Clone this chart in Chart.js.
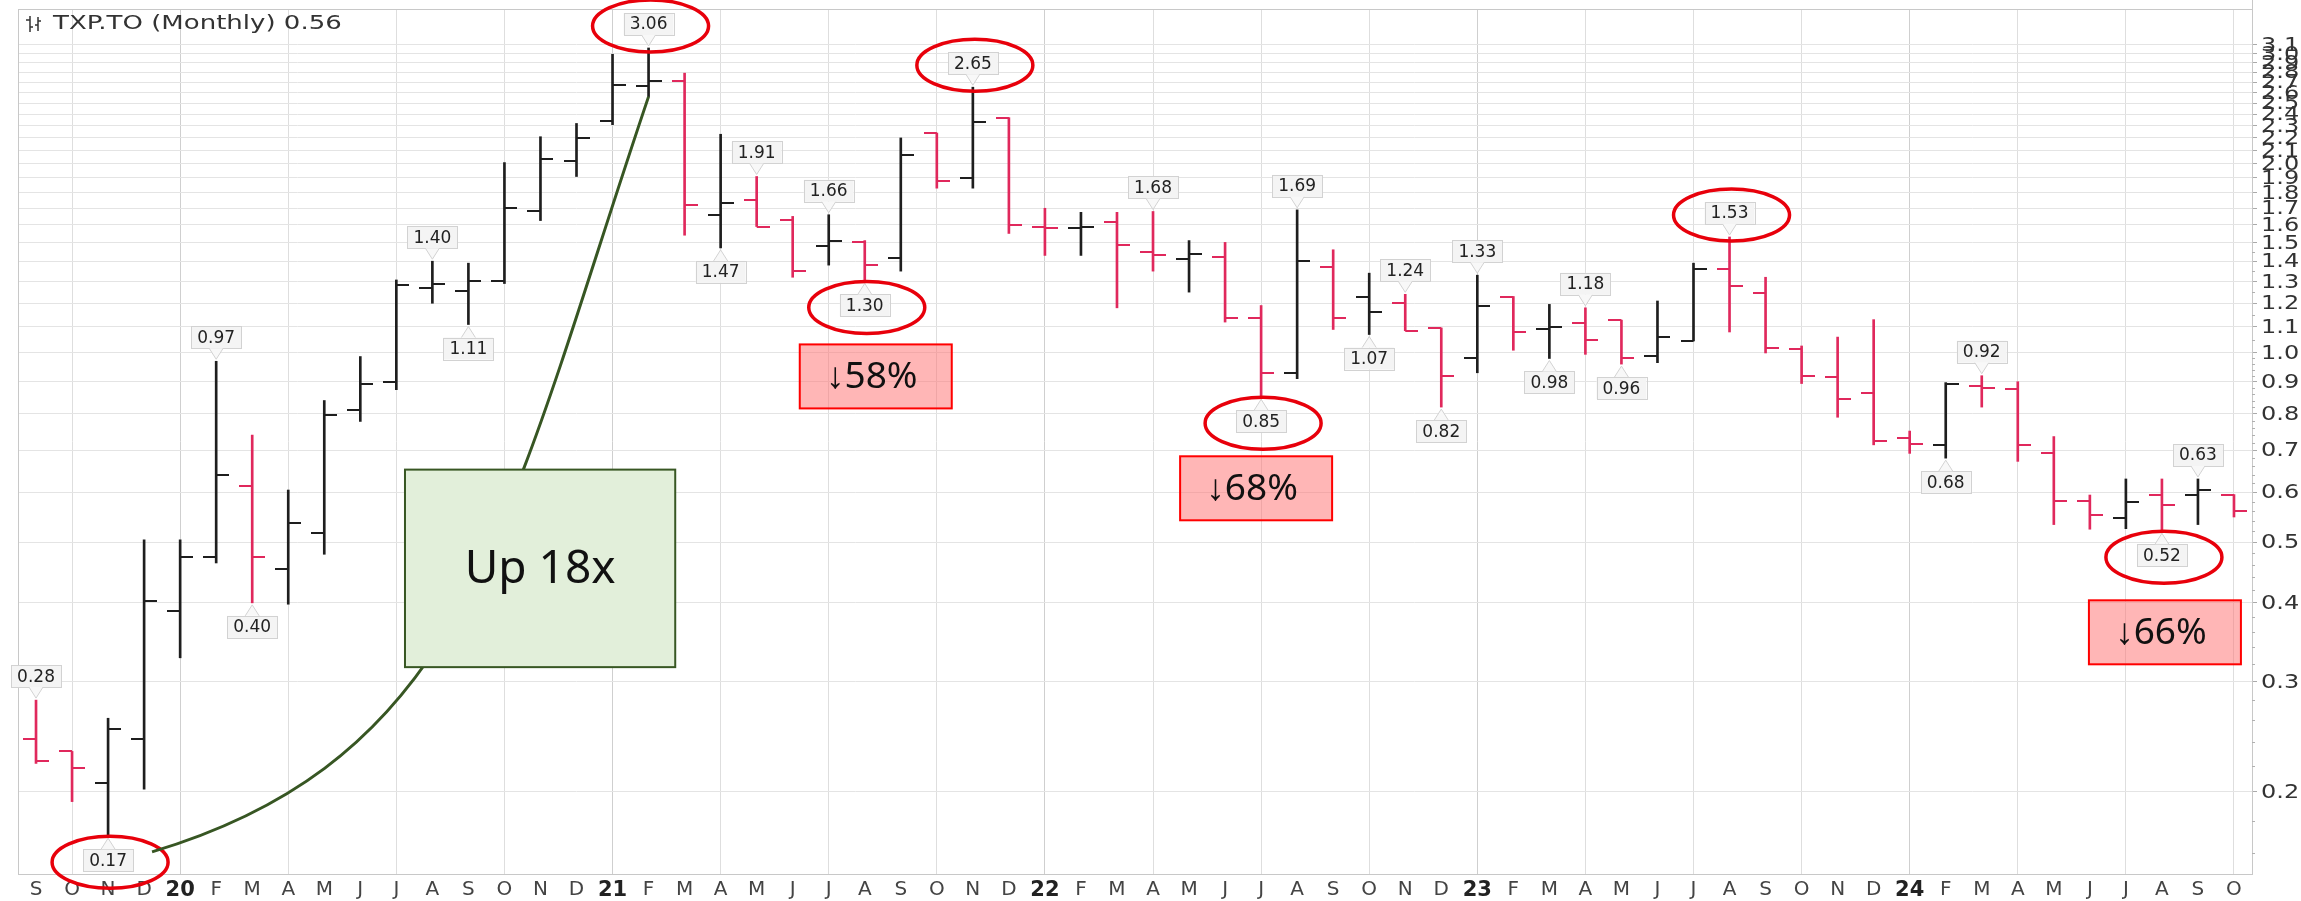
<!DOCTYPE html>
<html>
<head>
<meta charset="utf-8">
<script src="https://cdn.jsdelivr.net/npm/chart.js@4.4.1/dist/chart.umd.min.js"></script>
<style>
  html, body { margin: 0; padding: 0; background: #fff; }
  #myChart { display: block; }
</style>
</head>
<body>
<canvas id="myChart" width="2301" height="901"></canvas>
<script>
// month letters along the bottom, years as two digits
var months = ['S','O','N','D',
    '20','F','M','A','M','J','J','A','S','O','N','D',
    '21','F','M','A','M','J','J','A','S','O','N','D',
    '22','F','M','A','M','J','J','A','S','O','N','D',
    '23','F','M','A','M','J','J','A','S','O','N','D',
    '24','F','M','A','M','J','J','A','S','O'];

// monthly OHLC for TXP.TO
var opens  = [0.243,0.232,0.207,0.243, 0.388,0.474,0.614,0.453,0.517,0.81,0.90,1.27,1.257,1.30,1.68,2.02,
              2.34,2.66,2.71,1.657,1.75,1.63,1.48,1.50,1.415,2.24,1.90,2.37,
              1.59,1.58,1.615,1.45,1.41,1.42,1.135,0.93,1.37,1.23,1.20,1.096,
              0.98,1.23,1.09,1.115,1.128,0.99,1.045,1.36,1.245,1.014,0.915,0.862,
              0.733,0.714,0.885,0.876,0.694,0.581,0.545,0.594,0.594,0.593];
var highs  = [0.28,0.232,0.262,0.504, 0.504,0.97,0.74,0.605,0.84,0.987,1.307,1.40,1.39,2.01,2.21,2.32,
              2.99,3.06,2.79,2.23,1.91,1.65,1.66,1.51,2.20,2.24,2.65,2.37,
              1.70,1.675,1.675,1.68,1.51,1.50,1.19,1.69,1.46,1.34,1.24,1.096,
              1.33,1.23,1.195,1.18,1.128,1.21,1.39,1.53,1.32,1.026,1.06,1.13,
              0.751,0.897,0.92,0.90,0.736,0.594,0.63,0.63,0.63,0.595];
var lows   = [0.222,0.193,0.17,0.202, 0.327,0.463,0.40,0.398,0.478,0.778,0.874,1.20,1.11,1.29,1.625,1.91,
              2.31,2.56,1.54,1.47,1.59,1.32,1.38,1.30,1.35,1.83,1.83,1.55,
              1.43,1.43,1.18,1.35,1.25,1.12,0.85,0.91,1.09,1.07,1.085,0.82,
              0.93,1.01,0.98,0.995,0.96,0.965,1.045,1.08,1.00,0.894,0.79,0.714,
              0.692,0.68,0.82,0.672,0.533,0.524,0.525,0.52,0.533,0.548];
var closes = [0.224,0.218,0.252,0.402, 0.474,0.64,0.474,0.536,0.798,0.893,1.283,1.29,1.30,1.70,2.04,2.20,
              2.67,2.71,1.72,1.73,1.59,1.35,1.51,1.38,2.07,1.88,2.33,1.60,
              1.58,1.59,1.485,1.43,1.44,1.135,0.93,1.40,1.135,1.16,1.085,0.92,
              1.19,1.08,1.10,1.05,0.98,1.06,1.36,1.28,1.02,0.92,0.845,0.724,
              0.715,0.894,0.88,0.714,0.581,0.552,0.58,0.573,0.604,0.56];

// which bars carry a price flag
var highFlags = [0,5,11,17,20,22,26,31,35,38,40,43,47,54,60];
var lowFlags  = [2,6,12,19,23,34,37,39,42,44,53,59];
// flags circled in red
var circledHigh = [17,26,47];
var circledLow  = [2,23,34,59];

// price axis lines, every 0.1
var yTicks = [0.2,0.3,0.4,0.5,0.6,0.7,0.8,0.9,1.0,1.1,1.2,1.3,1.4,1.5,1.6,1.7,1.8,1.9,2.0,
              2.1,2.2,2.3,2.4,2.5,2.6,2.7,2.8,2.9,3.0,3.1];
// small marks on the price axis
var yMinor = [0.16,0.18,0.22,0.24,0.26,0.28,0.32,0.34,0.36,0.38,0.42,0.44,0.46,0.48,
              0.52,0.54,0.56,0.58,0.62,0.64,0.66,0.68,0.72,0.74,0.76,0.78,
              0.82,0.84,0.86,0.88,0.92,0.94,0.96,0.98,1.05,1.15,1.25,1.35,1.45];

// drop boxes: bar index they sit under
var dropIdx  = [23,34,59];
var dropText = ['\u219358%','\u219368%','\u219366%'];
var dropDx   = [11,-5,3];
var dropDy   = [63,59,69];

var RED = '#e0285c';
var BLACK = '#1e1e1e';

// black when the close is up on the month before, red when down
var barColors = closes.map(function(c, i){
    var prev = i ? closes[i-1] : opens[i];
    return c >= prev ? BLACK : RED;
});

let tickImage = function(color, side){
    var c = document.createElement('canvas');
    c.width = 26; c.height = 2;
    var g = c.getContext('2d');
    g.fillStyle = color;
    g.fillRect(side == 'left' ? 0 : 13, 0, 13, 2);
    return c;
}
var openRed = tickImage(RED, 'left'), openBlack = tickImage(BLACK, 'left');
var closeRed = tickImage(RED, 'right'), closeBlack = tickImage(BLACK, 'right');

// text a bit wider than the font, like the source image
let wideText = function(ctx, txt, px, py, sx){
    ctx.save();
    ctx.translate(px, py);
    ctx.scale(sx, 1);
    ctx.fillText(txt, 0, 0);
    ctx.restore();
}

// flags, circles, boxes and the green arrow
var overlay = {
    id: 'overlay',
    afterDraw: function(chart){
        var ctx = chart.ctx, x = chart.scales.x, y = chart.scales.y, a = chart.chartArea;

        ctx.save();
        // frame
        ctx.strokeStyle = '#c8c8c8';
        ctx.lineWidth = 1;
        ctx.strokeRect(a.left + 0.5, a.top + 0.5, a.right - a.left, a.bottom - a.top);
        ctx.beginPath();
        ctx.moveTo(a.right + 0.5, 0); ctx.lineTo(a.right + 0.5, a.top);
        ctx.stroke();

        // price axis labels and small marks
        ctx.strokeStyle = '#b0b0b0';
        ctx.beginPath();
        yMinor.forEach(function(v){
            var py = Math.round(y.getPixelForValue(v)) + 0.5;
            ctx.moveTo(a.right, py); ctx.lineTo(a.right + 3, py);
        });
        ctx.stroke();
        ctx.fillStyle = '#333';
        ctx.font = '20px "DejaVu Sans"';
        ctx.textAlign = 'left';
        ctx.textBaseline = 'middle';
        yTicks.forEach(function(v){
            wideText(ctx, v.toFixed(1), a.right + 9, y.getPixelForValue(v) + 1, 1.2);
        });

        // price flags
        var flagBox = function(i, above){
            var px = x.getPixelForValue(i);
            var val = above ? highs[i] : lows[i];
            var py = y.getPixelForValue(val);
            var txt = val.toFixed(2);
            ctx.font = '17px "DejaVu Sans"';
            var w = ctx.measureText(txt).width + 12, h = 22;
            var edge = above ? py - 13 : py + 13;
            var tip = above ? py - 2 : py + 2;
            var top = above ? edge - h : edge;
            ctx.fillStyle = '#f4f4f4';
            ctx.strokeStyle = '#d2d2d2';
            ctx.lineWidth = 1;
            ctx.fillRect(px - w / 2, top, w, h);
            ctx.strokeRect(Math.round(px - w / 2) + 0.5, Math.round(top) + 0.5, Math.round(w), h);
            ctx.beginPath();
            ctx.moveTo(px - 7, edge); ctx.lineTo(px, tip); ctx.lineTo(px + 7, edge);
            ctx.closePath();
            ctx.fillStyle = '#f8f8f8';
            ctx.fill();
            ctx.beginPath();
            ctx.moveTo(px - 7, edge); ctx.lineTo(px, tip); ctx.lineTo(px + 7, edge);
            ctx.stroke();
            ctx.fillStyle = '#222';
            ctx.textAlign = 'center';
            ctx.textBaseline = 'middle';
            ctx.fillText(txt, px, top + h / 2 + 1);
            return {x: px, y: top + h / 2};
        }
        var centers = {};
        highFlags.forEach(function(i){ centers['h' + i] = flagBox(i, true); });
        lowFlags.forEach(function(i){ centers['l' + i] = flagBox(i, false); });

        // red rings
        ctx.strokeStyle = '#e8000b';
        ctx.lineWidth = 3.5;
        var ring = function(c){
            ctx.beginPath();
            ctx.ellipse(c.x + 2, c.y + 2, 58, 26, 0, 0, Math.PI * 2);
            ctx.stroke();
        }
        circledHigh.forEach(function(i){ ring(centers['h' + i]); });
        circledLow.forEach(function(i){ ring(centers['l' + i]); });

        // green arrow from the 2019 low to the 2021 top
        ctx.strokeStyle = '#375623';
        ctx.lineWidth = 3;
        ctx.beginPath();
        ctx.moveTo(x.getPixelForValue(3.22), y.getPixelForValue(0.1605));
        ctx.bezierCurveTo(x.getPixelForValue(12.1), y.getPixelForValue(0.228),
                          x.getPixelForValue(13.07), y.getPixelForValue(0.551),
                          x.getPixelForValue(17), y.getPixelForValue(lows[17]));
        ctx.stroke();

        // Up 18x box
        var bx0 = x.getPixelForValue(10.24), bx1 = x.getPixelForValue(17.74);
        var by0 = y.getPixelForValue(0.652), by1 = y.getPixelForValue(0.316);
        ctx.fillStyle = '#e2efda';
        ctx.fillRect(bx0, by0, bx1 - bx0, by1 - by0);
        ctx.strokeStyle = '#385723';
        ctx.lineWidth = 2;
        ctx.strokeRect(bx0, by0, bx1 - bx0, by1 - by0);
        ctx.fillStyle = '#111';
        ctx.font = '46px "Noto Sans"';
        ctx.textAlign = 'center';
        ctx.textBaseline = 'middle';
        ctx.fillText('Up 18x', (bx0 + bx1) / 2, (by0 + by1) / 2 + 2);

        // drop boxes
        dropIdx.forEach(function(i, k){
            var cx = x.getPixelForValue(i) + dropDx[k];
            var top = y.getPixelForValue(lows[i]) + dropDy[k];
            ctx.fillStyle = 'rgba(255,110,110,0.5)';
            ctx.fillRect(cx - 76, top, 152, 64);
            ctx.strokeStyle = '#ff0000';
            ctx.lineWidth = 2;
            ctx.strokeRect(cx - 76, top, 152, 64);
            ctx.fillStyle = '#111';
            ctx.font = '37px "Noto Sans"';
            ctx.textAlign = 'center';
            ctx.fillText(dropText[k], cx - 4, top + 33);
        });

        // title
        ctx.fillStyle = '#333';
        ctx.font = '20px "DejaVu Sans"';
        ctx.textAlign = 'left';
        ctx.textBaseline = 'middle';
        wideText(ctx, 'TXP.TO (Monthly) 0.56', 53, 24, 1.3);
        ctx.strokeStyle = '#333';
        ctx.lineWidth = 1.5;
        ctx.beginPath();
        ctx.moveTo(30, 16); ctx.lineTo(30, 32); ctx.moveTo(26, 20); ctx.lineTo(30, 20); ctx.moveTo(30, 27); ctx.lineTo(33, 27);
        ctx.moveTo(38, 17); ctx.lineTo(38, 31); ctx.moveTo(35, 25); ctx.lineTo(38, 25); ctx.moveTo(38, 21); ctx.lineTo(41, 21);
        ctx.stroke();
        ctx.restore();
    }
};

var ctx = document.getElementById('myChart').getContext('2d');
var chart = new Chart(ctx, {
    // The type of chart we want to create
    type: 'bar',

    // The data for our dataset
    data: {
        labels: months,
        datasets: [{
            label: 'range',
            data: lows.map(function(l, i){ return [l, highs[i]]; }),
            backgroundColor: barColors,
            borderWidth: 0,
            barThickness: 2
        }, {
            type: 'line',
            label: 'open',
            data: opens,
            showLine: false,
            pointRadius: 6,
            pointStyle: function(c){ return barColors[c.dataIndex] == RED ? openRed : openBlack; }
        }, {
            type: 'line',
            label: 'close',
            data: closes,
            showLine: false,
            pointRadius: 6,
            pointStyle: function(c){ return barColors[c.dataIndex] == RED ? closeRed : closeBlack; }
        }]
    },

    // Configuration options go here
    options: {
        responsive: false,
        devicePixelRatio: 1,
        animation: false,
        layout: { padding: { left: 18, top: 9, right: 0, bottom: 0 } },
        plugins: {
            legend: { display: false },
            tooltip: { enabled: false }
        },
        scales: {
            x: {
                offset: true,
                grid: {
                    offset: false,
                    drawTicks: false,
                    color: function(c){
                        if ((c.index - 1) % 3 !== 0) return 'rgba(0,0,0,0)';
                        return /^\d\d$/.test(months[c.index]) ? '#cfcfcf' : '#dedede';
                    }
                },
                border: { color: '#c8c8c8' },
                ticks: {
                    autoSkip: false,
                    maxRotation: 0,
                    padding: 4,
                    color: function(c){ return /^\d\d$/.test(months[c.index]) ? '#222' : '#444'; },
                    font: function(c){
                        var yr = /^\d\d$/.test(months[c.index]);
                        return { family: 'DejaVu Sans', size: yr ? 21 : 20, weight: yr ? 'bold' : 'normal' };
                    }
                },
                afterFit: function(s){ s.height = 27; s.paddingLeft = 0; s.paddingRight = 0; }
            },
            y: {
                type: 'logarithmic',
                position: 'right',
                min: 0.148,
                max: 3.53,
                grid: { color: '#e4e4e4', tickLength: 5, tickColor: '#aaa' },
                border: { color: '#c8c8c8' },
                afterBuildTicks: function(s){ s.ticks = yTicks.map(function(v){ return { value: v }; }); },
                ticks: {
                    display: false,
                    autoSkip: false
                },
                afterFit: function(s){ s.width = 49; s.paddingTop = 0; s.paddingBottom = 0; }
            }
        }
    },
    plugins: [overlay]
});
</script>
</body>
</html>
